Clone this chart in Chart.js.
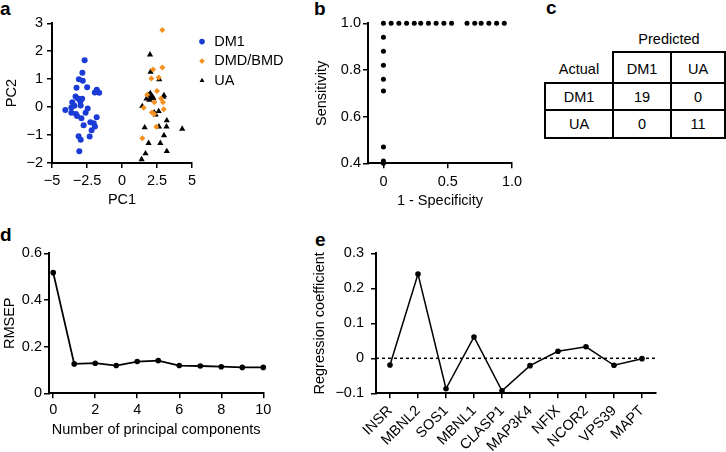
<!DOCTYPE html>
<html>
<head>
<meta charset="utf-8">
<script src="https://cdn.jsdelivr.net/npm/chart.js@4/dist/chart.umd.min.js"></script>
<style>
  body { margin: 0; background: #fff; width: 726px; height: 452px; position: relative; overflow: hidden;
         font-family: 'Liberation Sans', Arial, Helvetica, sans-serif; color: #000; }
  canvas { position: absolute; }
  .lbl { position: absolute; font-weight: bold; font-size: 19px; line-height: 19px; }
  .cell { position: absolute; font-size: 14.5px; text-align: center; transform: translate(-50%, -50%); white-space: nowrap; }
  .hl { position: absolute; height: 2px; background: #000; }
  .vl { position: absolute; width: 2px; background: #000; }
</style>
</head>
<body>
<div class="lbl" style="left:0px;top:-1px">a</div>
<div class="lbl" style="left:314px;top:-1px">b</div>
<div class="lbl" style="left:546px;top:-2px">c</div>
<div class="lbl" style="left:0px;top:225px">d</div>
<div class="lbl" style="left:315px;top:230px">e</div>

<canvas id="chartA" width="300" height="215" style="left:0;top:0"></canvas>
<canvas id="chartB" width="280" height="215" style="left:250px;top:0"></canvas>
<canvas id="chartD" width="300" height="237" style="left:0;top:215px"></canvas>
<canvas id="chartE" width="426" height="237" style="left:300px;top:215px"></canvas>

<!-- panel c: confusion table -->
<div class="hl" style="left:612px;top:51px;width:114px"></div>
<div class="hl" style="left:545px;top:82px;width:181px"></div>
<div class="hl" style="left:545px;top:109px;width:181px"></div>
<div class="hl" style="left:545px;top:137px;width:181px"></div>
<div class="vl" style="left:544px;top:82px;height:57px"></div>
<div class="vl" style="left:612px;top:51px;height:88px"></div>
<div class="vl" style="left:670px;top:51px;height:88px"></div>
<div class="vl" style="left:724px;top:51px;height:88px"></div>
<div class="cell" style="left:669px;top:39px">Predicted</div>
<div class="cell" style="left:579px;top:69px">Actual</div>
<div class="cell" style="left:642px;top:69px">DM1</div>
<div class="cell" style="left:698px;top:69px">UA</div>
<div class="cell" style="left:579px;top:97px">DM1</div>
<div class="cell" style="left:642px;top:97px">19</div>
<div class="cell" style="left:698px;top:97px">0</div>
<div class="cell" style="left:579px;top:124px">UA</div>
<div class="cell" style="left:642px;top:124px">0</div>
<div class="cell" style="left:698px;top:124px">11</div>

<script>
// ---- panel a: PCA scores
const dm1X = [-2.67, -2.83, -3.08, -2.80, -3.25, -2.49, -1.80, -1.94, -1.63, -3.32, -3.15, -2.85, -3.55, -2.98, -2.95, -3.62, -4.05,
              -3.62, -3.29, -2.45, -3.21, -2.90, -1.81, -2.26, -2.02, -1.93, -2.74, -2.17, -2.31, -3.10, -2.95, -3.05, -3.40, -2.60];
const dm1Y = [1.68, 1.23, 1.00, 0.94, 0.69, 0.71, 0.62, 0.52, 0.51, 0.38, 0.31, 0.30, 0.17, 0.20, 0.06, -0.01, -0.10,
              -0.20, -0.25, -0.05, -0.32, -0.40, -0.36, -0.54, -0.58, -0.69, -0.65, -0.83, -1.05, -1.04, -1.17, -1.58, 0.05, -0.20];
const dmdX = [2.88, 2.88, 2.22, 2.10, 2.62, 2.50, 1.80, 2.79, 2.93, 2.31, 1.55, 2.14, 2.30, 2.45, 1.45, 2.98];
const dmdY = [2.76, 1.42, 1.35, 1.02, 1.06, 0.58, 0.44, 0.31, 0.17, 0.17, -0.02, -0.19, -0.25, -0.70, -1.11, -0.08];
const uaX = [2.00, 2.04, 2.66, 2.02, 1.90, 2.15, 1.75, 2.25, 1.95, 3.00, 2.95, 1.45, 2.30, 2.40, 2.62, 3.20, 3.18, 4.30,
             1.62, 2.64, 3.00, 1.90, 2.74, 3.20, 1.68, 1.40, 2.20];
const uaY = [1.88, 1.26, 0.99, 0.49, 0.42, 0.38, 0.30, 0.31, 0.26, 0.42, 0.36, 0.03, -0.20, -0.27, -0.15, -0.48, -0.70, -0.78,
             -0.73, -0.70, -1.01, -1.29, -1.29, -1.58, -1.66, -1.87, 0.35];
const pcaXTicks = [-5, -2.5, 0, 2.5, 5];
const pcaYTicks = [-2, -1, 0, 1, 2, 3];

// ---- panel b: ROC
const rocX = [0, 0, 0, 0, 0, 0, 0, 0, 0,
              0.06, 0.12, 0.18, 0.24, 0.29, 0.35, 0.41, 0.47, 0.53, 0.65, 0.71, 0.76, 0.82, 0.88, 0.94];
const rocY = [0.40, 0.41, 0.47, 0.71, 0.76, 0.82, 0.88, 0.94, 1.0,
              1.0, 1.0, 1.0, 1.0, 1.0, 1.0, 1.0, 1.0, 1.0, 1.0, 1.0, 1.0, 1.0, 1.0, 1.0];
const rocXTicks = [0, 0.5, 1.0];
const rocYTicks = [0.4, 0.6, 0.8, 1.0];

// ---- panel d: RMSEP
const nComponents = [0, 1, 2, 3, 4, 5, 6, 7, 8, 9, 10];
const rmsep = [0.517, 0.126, 0.129, 0.119, 0.136, 0.140, 0.119, 0.117, 0.114, 0.111, 0.111];
const compTicks = [0, 2, 4, 6, 8, 10];
const rmsepTicks = [0, 0.2, 0.4, 0.6];

// ---- panel e: regression coefficients
const genes = ['INSR', 'MBNL2', 'SOS1', 'MBNL1', 'CLASP1', 'MAP3K4', 'NFIX', 'NCOR2', 'VPS39', 'MAPT'];
const coefs = [-0.019, 0.241, -0.087, 0.061, -0.093, -0.021, 0.020, 0.033, -0.020, -0.001];
const coefTicks = [-0.1, 0, 0.1, 0.2, 0.3];

const BLUE = '#1b3bd6';
const ORANGE = '#f5901e';

Chart.defaults.font.family = "'Liberation Sans', Arial, Helvetica, sans-serif";
Chart.defaults.font.size = 14.5;
Chart.defaults.color = '#000';
Chart.defaults.animation = false;

const minus = v => String(v).replace('-', '\u2212');
const oneDec = v => (v === 0 ? '0' : minus(v.toFixed(1)));
const zip = (xs, ys) => xs.map((x, i) => ({ x: x, y: ys[i] }));

// fix axis box sizes so the plot areas land where the figure has them
function fixW(w) {
  return s => { s.width = w; s.paddingTop = 0; s.paddingBottom = 0; s.paddingLeft = 0; s.paddingRight = 0; };
}
function fixH(h) {
  return s => { s.height = h; s.paddingTop = 0; s.paddingBottom = 0; s.paddingLeft = 0; s.paddingRight = 0; };
}
function useTicks(values) {
  return s => { s.ticks = values.map(v => ({ value: v })); };
}

function axis(opts) {
  return Object.assign({
    type: 'linear',
    grid: { drawOnChartArea: false, drawTicks: true, tickLength: 5, color: '#000', lineWidth: 1.5 },
    border: { display: true, color: '#000', width: 2 }
  }, opts);
}

const legendWidth = w => ({
  id: 'legendWidth',
  afterInit(chart) {
    const lg = chart.legend;
    if (!lg) return;
    const fit = lg.fit;
    lg.fit = function () { fit.call(this); this.width = w; };
  }
});

const zeroLine = {
  id: 'zeroLine',
  beforeDatasetsDraw(chart) {
    const { ctx, chartArea, scales } = chart;
    const py = scales.y.getPixelForValue(0);
    ctx.save();
    ctx.setLineDash([3, 3]);
    ctx.lineWidth = 1.5;
    ctx.strokeStyle = '#000';
    ctx.beginPath();
    ctx.moveTo(chartArea.left, py);
    ctx.lineTo(chartArea.right, py);
    ctx.stroke();
    ctx.restore();
  }
};

// a
new Chart(document.getElementById('chartA'), {
  type: 'scatter',
  data: {
    datasets: [
      { label: 'DM1', data: zip(dm1X, dm1Y), pointStyle: 'circle', pointRadius: 3,
        backgroundColor: BLUE, borderColor: BLUE, borderWidth: 0 },
      { label: 'DMD/BMD', data: zip(dmdX, dmdY), pointStyle: 'rectRot', pointRadius: 3,
        backgroundColor: ORANGE, borderColor: ORANGE, borderWidth: 0 },
      { label: 'UA', data: zip(uaX, uaY), pointStyle: 'triangle', pointRadius: 3.6,
        backgroundColor: '#000', borderColor: '#000', borderWidth: 0 }
    ]
  },
  options: {
    responsive: false,
    events: [],
    layout: { autoPadding: false, padding: { left: 3.6, top: 23.3, right: 0, bottom: 6.6 } },
    plugins: {
      tooltip: { enabled: false },
      legend: {
        position: 'right', align: 'start',
        title: { display: true, text: '', padding: { top: 3, bottom: 2 }, font: { size: 1, lineHeight: 1 } },
        labels: { usePointStyle: true, boxWidth: 10, boxHeight: 4, padding: 5, color: '#000', font: { size: 14.5 } }
      }
    },
    scales: {
      x: axis({ min: -5, max: 5, afterBuildTicks: useTicks(pcaXTicks), afterFit: fixH(45.4),
        ticks: { padding: 4, callback: minus },
        title: { display: true, text: 'PC1', padding: 0 } }),
      y: axis({ min: -2, max: 3, afterBuildTicks: useTicks(pcaYTicks), afterFit: fixW(48.4),
        ticks: { padding: 4, callback: minus },
        title: { display: true, text: 'PC2', padding: 0 } })
    }
  },
  plugins: [legendWidth(108)]
});

// b
new Chart(document.getElementById('chartB'), {
  type: 'scatter',
  data: {
    datasets: [{ data: zip(rocX, rocY), pointRadius: 2.5, backgroundColor: '#000', borderColor: '#000',
      borderWidth: 0, clip: false }]
  },
  options: {
    responsive: false,
    events: [],
    layout: { autoPadding: false, padding: { left: 63, top: 23.3, right: 18, bottom: 5.4 } },
    plugins: { legend: { display: false }, tooltip: { enabled: false } },
    scales: {
      x: axis({ min: -0.12, max: 1.0, afterBuildTicks: useTicks(rocXTicks), afterFit: fixH(46.3),
        ticks: { padding: 5, callback: oneDec },
        title: { display: true, text: '1 - Specificity', padding: 0 } }),
      y: axis({ min: 0.4, max: 1.0, afterBuildTicks: useTicks(rocYTicks), afterFit: fixW(55),
        ticks: { padding: 2, callback: v => v.toFixed(1) },
        title: { display: true, text: 'Sensitivity', padding: 0 } })
    }
  }
});

// d
new Chart(document.getElementById('chartD'), {
  type: 'scatter',
  data: {
    datasets: [{ data: zip(nComponents, rmsep), showLine: true, borderColor: '#000', borderWidth: 1.8,
      pointRadius: 2.8, pointBackgroundColor: '#000', pointBorderWidth: 0, clip: false }]
  },
  options: {
    responsive: false,
    events: [],
    layout: { autoPadding: false, padding: { left: 1.3, top: 38.3, right: 36.7, bottom: 13.4 } },
    plugins: { legend: { display: false }, tooltip: { enabled: false } },
    scales: {
      x: axis({ min: -0.2, max: 10, afterBuildTicks: useTicks(compTicks), afterFit: fixH(45.3),
        ticks: { padding: 3 },
        title: { display: true, text: 'Number of principal components', padding: 0 } }),
      y: axis({ min: 0, max: 0.6, afterBuildTicks: useTicks(rmsepTicks), afterFit: fixW(47.7),
        ticks: { padding: 2, callback: oneDec },
        title: { display: true, text: 'RMSEP', padding: 0 } })
    }
  }
});

// e
new Chart(document.getElementById('chartE'), {
  type: 'line',
  data: {
    labels: genes,
    datasets: [{ data: coefs, borderColor: '#000', borderWidth: 1.5, tension: 0,
      pointRadius: 2.8, pointBackgroundColor: '#000', pointBorderWidth: 0, clip: false }]
  },
  options: {
    responsive: false,
    events: [],
    layout: { autoPadding: false, padding: { left: 11.3, top: 38.3, right: 70, bottom: 0.7 } },
    plugins: { legend: { display: false }, tooltip: { enabled: false } },
    scales: {
      x: {
        type: 'category', offset: true, afterFit: fixH(58),
        grid: { offset: false, drawOnChartArea: false, drawTicks: true, tickLength: 5, color: '#000', lineWidth: 1.5 },
        border: { display: true, color: '#000', width: 2 },
        ticks: { autoSkip: false, minRotation: 45, maxRotation: 45, padding: 4 }
      },
      y: axis({ min: -0.1, max: 0.3, afterBuildTicks: useTicks(coefTicks), afterFit: fixW(64.7),
        ticks: { padding: 7, callback: oneDec },
        title: { display: true, text: 'Regression coefficient', padding: 0 } })
    }
  },
  plugins: [zeroLine]
});
</script>
</body>
</html>
